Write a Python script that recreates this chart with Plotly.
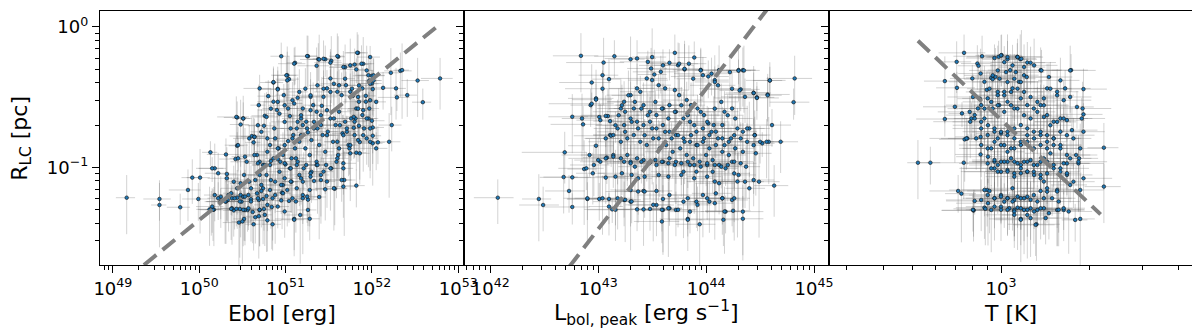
import numpy as np
import plotly.graph_objects as go

# ---------------- data (log10 values) ----------------
# Panel 1: Ebol [erg] vs R_LC [pc]  (outer / scattered objects)
E_LOG = [
49.16,49.54,49.54,49.78,49.87,49.92,50.01,49.99,50.13,50.12,
50.18,50.18,50.31,50.32,50.44,50.42,50.44,50.51,50.61,50.64,
50.69,50.75,50.86,50.91,50.95,51.04,51.02,51.11,51.26,51.36,
51.38,51.46,51.53,51.61,51.69,51.80,51.84,51.90,51.82,51.96,
52.00,52.02,52.00,52.13,52.22,52.28,52.29,52.33,52.35,52.41,
52.53,52.59,52.79,52.23,52.20,52.07,52.01,52.01,52.01,52.00,
51.97,51.93,51.85,51.82,51.81,51.80,51.80,51.86,51.82,51.73,
51.68,51.67,51.82,51.57,51.46,51.33,51.39,51.26,51.26,51.17,
51.10,51.04,50.96,50.95,50.85,50.84,50.79,50.75,50.78,50.74,
50.69,50.70,50.65,50.60,50.56,50.53,50.49,50.47,50.40,50.38,
50.33,50.31,50.25,50.25,50.17,50.14,50.46,50.52,50.62,50.69,
50.63,
50.70,50.76,50.80,50.86,50.90,50.93,50.98,51.03,51.05,51.10,
51.14,51.18,51.20,51.24,51.29,51.32,51.36,51.42,51.44,51.48,
51.52,51.56,51.60,51.65,51.70,51.75,51.78,51.85,51.89,51.93,
51.98,52.01,51.97,
50.63,50.67,50.70,50.74,50.79,50.82,50.86,50.88,50.92,50.94,
50.97,51.00,51.03,51.07,51.09,51.11,51.13,51.16,51.20,51.23,
51.26,51.28,51.30,51.33,51.36,51.39,51.41,51.43,51.46,51.49,
51.52,51.55,51.58,51.61,51.62,51.66,51.69,51.71,51.74,51.76,
51.79,51.85,51.89,51.91,51.94,51.96,
50.78,50.82,50.88,50.93,50.99,51.05,51.13,51.16,51.20,51.24,
51.30,51.36,51.41,51.47,51.53,51.59,51.62,51.12,
50.48,50.52,50.55,50.58,50.65,50.70,50.74,50.44,50.40,50.34,
50.38,50.44,50.48,50.51,50.57,50.67,50.72,50.82,50.88,50.97,
51.07,51.13,51.20,51.28,
]
E_RLOG = [
-1.216,-1.225,-1.268,-1.284,-1.161,-1.073,-1.073,-1.225,-0.893,-1.299,
-1.007,-1.197,-0.908,-1.047,-0.846,-0.941,-0.645,-0.652,-0.777,-0.782,
-0.557,-0.704,-0.396,-0.441,-0.209,-0.372,-0.344,-0.256,-0.209,-0.277,
-0.230,-0.230,-0.242,-0.213,-0.287,-0.268,-0.185,-0.263,-0.303,-0.344,
-0.348,-0.382,-0.403,-0.434,-0.327,-0.438,-0.502,-0.313,-0.308,-0.486,
-0.382,-0.536,-0.367,-0.699,-0.818,-0.822,-0.829,-0.775,-0.716,-0.668,
-0.581,-0.533,-0.533,-0.581,-0.652,-0.675,-0.770,-0.820,-0.896,-0.841,
-1.090,-1.007,-1.130,-1.152,-1.156,-1.097,-1.211,-1.230,-1.303,-1.339,
-1.367,-1.239,-1.180,-1.235,-1.405,-1.282,-1.377,-1.296,-1.204,-1.225,
-1.232,-1.303,-1.355,-1.227,-1.303,-1.303,-1.244,-1.296,-1.306,-1.291,
-1.232,-1.244,-1.209,-1.244,-1.301,-1.299,-1.393,-1.367,-1.318,-1.348,
-1.405,
-0.438,-0.633,-0.493,-0.533,-0.592,-0.618,-0.486,-0.581,-0.635,-0.545,
-0.505,-0.652,-0.581,-0.675,-0.498,-0.557,-0.604,-0.562,-0.498,-0.438,
-0.367,-0.405,-0.462,-0.486,-0.415,-0.462,-0.491,-0.417,-0.438,-0.491,
-0.405,-0.443,-0.382,
-0.822,-0.912,-0.960,-0.983,-0.889,-0.841,-0.936,-0.794,-0.865,-0.960,
-0.912,-0.979,-0.813,-0.936,-0.770,-0.865,-0.723,-0.818,-0.699,-0.865,
-0.751,-0.912,-0.806,-0.723,-0.960,-0.841,-0.699,-0.770,-0.889,-0.746,
-0.652,-0.818,-0.699,-0.912,-0.604,-0.758,-0.675,-0.746,-0.865,-0.652,
-0.718,-0.704,-0.628,-0.723,-0.794,-0.652,
-1.054,-0.983,-1.102,-1.031,-1.078,-1.007,-0.983,-1.054,-1.102,-0.983,
-1.031,-0.983,-1.054,-0.983,-1.007,-0.960,-0.865,-0.936,
-1.114,-1.054,-0.960,-1.102,-1.090,-1.054,-1.149,-1.149,-1.102,-1.197,
-1.220,-1.216,-1.197,-1.209,-1.197,-1.185,-1.168,-1.161,-1.197,-1.126,
-1.102,-1.149,-1.197,-1.161,
]
# Panel 1, dense core objects
E_CORE_LOG = [
50.86,50.91,51.01,51.02,51.10,51.25,51.39,51.44,51.52,51.60,
51.67,51.75,51.83,51.88,51.98,51.94,52.02,52.05,51.98,51.90,
51.84,51.94,51.98,51.90,51.84,51.75,51.67,51.63,51.56,51.48,
51.41,51.33,51.25,51.18,51.08,50.99,50.91,50.79,50.72,50.64,
50.68,50.78,50.83,50.91,50.99,51.08,51.16,51.23,51.29,51.37,
51.44,51.52,51.62,51.69,51.77,51.84,51.18,51.29,51.37,51.48,
51.60,51.71,51.79,50.99,51.06,51.14,50.87,50.51,50.43,50.48,
50.58,50.45,51.98,52.05,
50.45,50.53,50.64,50.68,50.76,50.83,50.91,50.99,51.06,51.14,
51.21,51.29,51.37,51.44,51.52,51.60,51.67,51.75,51.86,50.15,
50.22,50.32,50.37,50.41,50.47,50.53,50.60,50.68,50.70,50.76,
50.79,50.85,50.91,50.97,51.02,51.08,51.12,51.20,51.25,50.57,
50.51,50.43,50.37,50.30,50.22,50.16,50.15,50.60,50.72,50.83,
50.95,51.06,51.18,51.29,51.41,51.48,51.56,51.65,51.67,50.99,
51.10,51.28,50.50,
]
E_CORE_RLOG = [
-0.393,-0.445,-0.345,-0.381,-0.262,-0.208,-0.232,-0.227,-0.255,-0.208,
-0.286,-0.274,-0.184,-0.262,-0.215,-0.310,-0.345,-0.534,-0.522,-0.593,
-0.582,-0.652,-0.723,-0.771,-0.806,-0.842,-0.771,-0.700,-0.652,-0.593,
-0.629,-0.676,-0.723,-0.771,-0.794,-0.842,-0.865,-0.794,-0.747,-0.783,
-0.700,-0.641,-0.582,-0.534,-0.558,-0.522,-0.463,-0.440,-0.487,-0.416,
-0.440,-0.463,-0.416,-0.369,-0.440,-0.499,-0.629,-0.593,-0.723,-0.771,
-0.818,-0.723,-0.641,-0.676,-0.723,-0.676,-0.723,-0.652,-0.641,-0.695,
-0.794,-0.842,-0.818,-0.865,
-0.936,-0.924,-0.912,-0.971,-0.983,-0.955,-0.941,-0.971,-1.007,-0.960,
-1.007,-1.042,-0.983,-1.030,-1.007,-0.936,-0.971,-0.900,-0.900,-1.007,
-1.042,-1.078,-1.184,-1.220,-1.243,-1.208,-1.243,-1.220,-1.302,-1.338,
-1.267,-1.220,-1.279,-1.184,-1.161,-1.220,-1.243,-1.220,-1.208,-1.291,
-1.302,-1.295,-1.295,-1.243,-1.220,-1.302,-1.279,-1.149,-1.125,-1.090,
-1.125,-1.101,-1.078,-1.066,-1.090,-1.101,-1.149,-1.090,-1.137,-1.314,
-1.373,-1.366,-1.385,
]
# relative x errors for Ebol
E_XERR = [
.25,.35,.20,.30,.40,.25,.30,.35,.20,.30, .35,.25,.40,.30,.20,.35,.30,.25,.45,.30,
.20,.35,.30,.40,.25,.30,.35,.20,.30,.40, .25,.35,.30,.20,.35,.45,.30,.25,.35,.30,
.40,.20,.30,.35,.25,.30,.40,.35,.20,.30, .35,.25,.40,.30,.35,.20,.30,.25,.35,.40,
.30,.25,.35,.20,.30,.40,.25,.35,.30,.20, .35,.30,.25,.40,.30,.35,.20,.30,.25,.35,
.40,.30,.20,.35,.25,.30,.45,.30,.35,.20, .30,.35,.25,.30,.40,.20,.35,.30,.25,.35,
.30,.40,.25,.35,.20,.30,.35,.25,.40,.30, .20,.35,.30,.25,.35,.40,.30,.20,.35,.30,
.25,.30,.40,.35,.20,.30,.25,.35,.30,.45, .35,.20,.30,.25,.40,.30,.35,.20,.30,.35,
.30,.25,.35,.40,.20,.30,.35,.25,.30,.40, .20,.35,.30,.25,.35,.30,.40,.20,.30,.35,
.35,.30,.20,.40,.25,.35,.30,.25,.35,.20, .30,.40,.25,.30,.35,.20,.30,.35,.40,.25,
.25,.35,.30,.20,.35,.40,.25,.30,.35,.30, .40,.20,.35,.30,.25,.30,.35,.40,.20,.30,
.30,.35,.25,.40,.30,.20,.35,.30,.25,.35, .35,.30,.40,.25,.30,.35,.20,.30,.35,.25,
.20,.30,.35,.30,.25,.40,.30,.35,.20,.30, .30,.25,
]

# Panel 2: L_bol,peak [erg s^-1] vs R_LC [pc]
L_LOG = [
42.84,43.15,43.05,43.04,43.10,42.94,42.98,42.93,42.94,42.76,
42.85,42.86,43.01,43.09,43.11,43.12,43.02,43.30,43.36,43.46,
43.49,43.52,43.58,43.71,43.66,43.74,43.80,43.89,43.95,43.97,
44.02,44.08,44.12,44.30,44.34,44.32,44.36,44.44,44.47,44.57,
44.59,44.82,44.81,44.61,44.58,44.69,44.52,44.45,44.40,44.34,
44.27,44.24,44.17,44.15,44.07,44.02,43.98,43.92,43.86,43.82,
43.75,43.71,43.62,43.56,43.50,43.45,43.39,43.36,43.30,43.24,
43.21,43.25,43.33,43.42,43.48,43.54,43.60,43.66,43.72,43.79,
43.85,43.91,43.97,44.03,44.09,44.15,44.21,44.27,44.34,44.21,
44.15,44.09,44.03,43.97,43.91,43.85,43.79,43.72,43.66,43.60,
43.54,43.48,43.42,43.36,43.30,43.24,43.18,43.14,43.21,43.27,
43.33,43.39,43.45,43.51,43.57,43.63,43.69,43.76,43.82,43.88,
43.94,44.00,44.06,44.12,44.18,44.24,44.30,44.40,44.49,44.63,
44.36,44.26,44.06,44.01,43.91,43.85,43.79,43.72,43.66,43.60,
43.54,43.48,43.42,43.36,43.30,43.27,43.21,43.14,43.08,43.02,
42.96,42.92,42.87,42.76,42.68,42.73,42.76,42.90,42.69,42.07,
42.45,42.49,43.01,43.10,43.13,43.18,43.24,43.30,43.36,43.42,
43.48,43.54,43.60,43.66,43.72,43.30,43.42,43.54,43.60,43.66,
43.79,43.85,43.91,43.97,44.03,44.09,44.15,44.18,44.24,44.34,
43.83,43.94,43.58,44.17,43.82,43.54,43.42,43.33,43.28,43.85,
43.97,44.09,
]
L_RLOG = [
-0.206,-0.209,-0.254,-0.344,-0.372,-0.396,-0.509,-0.557,-0.547,-0.640,
-0.652,-0.694,-0.642,-0.635,-0.770,-0.775,-0.664,-0.230,-0.225,-0.249,
-0.296,-0.339,-0.320,-0.185,-0.256,-0.273,-0.303,-0.218,-0.306,-0.344,
-0.353,-0.379,-0.308,-0.308,-0.308,-0.445,-0.498,-0.469,-0.502,-0.481,
-0.382,-0.367,-0.536,-0.699,-0.818,-0.818,-0.829,-0.770,-0.723,-0.746,
-0.652,-0.581,-0.604,-0.699,-0.699,-0.687,-0.628,-0.581,-0.557,-0.521,
-0.486,-0.450,-0.438,-0.415,-0.379,-0.367,-0.462,-0.438,-0.486,-0.533,
-0.581,-0.604,-0.581,-0.557,-0.604,-0.628,-0.581,-0.557,-0.604,-0.652,
-0.675,-0.746,-0.723,-0.770,-0.746,-0.794,-0.818,-0.865,-0.889,-0.912,
-0.889,-0.841,-0.865,-0.818,-0.841,-0.818,-0.794,-0.770,-0.746,-0.699,
-0.723,-0.675,-0.699,-0.675,-0.652,-0.699,-0.723,-0.770,-0.818,-0.794,
-0.770,-0.818,-0.841,-0.794,-0.865,-0.841,-0.889,-0.865,-0.912,-0.936,
-0.960,-0.912,-0.948,-0.983,-1.007,-0.960,-1.054,-1.149,-1.102,-1.130,
-1.102,-1.043,-1.031,-0.983,-1.031,-0.983,-1.031,-0.960,-0.936,-0.960,
-0.983,-0.964,-0.948,-0.936,-0.960,-0.912,-0.936,-0.912,-0.931,-0.960,
-0.983,-0.912,-1.012,-1.071,-1.069,-1.168,-1.282,-1.225,-0.893,-1.216,
-1.225,-1.268,-1.225,-1.225,-1.299,-1.220,-1.232,-1.244,-1.299,-1.299,
-1.296,-1.268,-1.303,-1.291,-1.303,-1.161,-1.168,-1.168,-1.225,-1.197,
-1.244,-1.315,-1.244,-1.197,-1.244,-1.185,-1.220,-1.315,-1.232,-1.315,
-1.367,-1.405,-1.386,-1.344,-1.161,-1.126,-1.102,-1.078,-1.031,-1.102,
-1.102,-1.102,
]
L_CORE_LOG = [
43.04,43.50,43.60,43.75,43.80,43.84,43.88,43.95,44.05,44.08,
44.11,44.22,44.30,44.35,44.24,44.31,44.44,44.47,44.57,44.59,
44.45,44.38,44.32,44.26,44.20,44.14,44.08,44.01,43.95,43.89,
43.83,43.77,43.71,43.65,43.59,43.53,43.46,43.40,43.34,43.28,
43.22,43.19,43.16,43.25,43.31,43.37,43.43,43.50,43.56,43.62,
43.68,43.74,43.80,43.86,43.92,43.98,44.05,44.11,44.17,44.23,
44.29,44.38,44.44,44.50,44.56,42.98,43.07,43.11,43.07,42.98,
43.00,43.07,43.14,43.24,43.30,43.34,43.40,43.47,43.53,43.59,
43.65,43.71,43.77,43.83,43.89,43.95,44.01,44.08,44.14,44.20,
44.26,44.32,44.37,44.46,42.89,42.95,43.07,43.16,43.22,43.31,
43.37,43.43,43.56,43.65,43.77,43.89,44.01,44.08,44.12,44.29,
44.44,42.90,43.04,43.10,43.16,43.25,43.31,43.37,43.43,43.51,
43.59,43.65,43.74,43.83,43.92,44.01,44.08,44.15,44.26,43.59,
43.83,44.16,44.34,44.25,44.17,
]
L_CORE_RLOG = [
-0.440,-0.215,-0.274,-0.262,-0.298,-0.262,-0.369,-0.310,-0.333,-0.392,
-0.416,-0.322,-0.312,-0.310,-0.440,-0.452,-0.471,-0.506,-0.487,-0.381,
-0.771,-0.723,-0.794,-0.771,-0.629,-0.534,-0.582,-0.676,-0.605,-0.700,
-0.629,-0.558,-0.605,-0.652,-0.582,-0.534,-0.629,-0.582,-0.534,-0.487,
-0.558,-0.629,-0.700,-0.747,-0.676,-0.723,-0.771,-0.723,-0.794,-0.747,
-0.794,-0.771,-0.818,-0.771,-0.842,-0.794,-0.747,-0.794,-0.842,-0.794,
-0.723,-0.818,-0.842,-0.818,-0.818,-0.518,-0.634,-0.671,-0.794,-0.846,
-0.948,-0.936,-0.924,-0.960,-0.971,-0.995,-0.960,-0.971,-0.948,-0.960,
-0.971,-0.983,-0.971,-0.960,-0.983,-0.995,-0.971,-0.983,-0.995,-0.983,
-0.960,-0.971,-0.995,-0.900,-1.007,-1.042,-1.073,-1.066,-1.042,-1.054,
-1.078,-1.066,-1.054,-1.066,-1.054,-1.078,-1.066,-1.101,-1.113,-1.101,
-1.090,-1.220,-1.220,-1.279,-1.302,-1.231,-1.243,-1.172,-1.172,-1.267,
-1.302,-1.291,-1.302,-1.220,-1.267,-1.220,-1.255,-1.220,-1.220,-1.385,
-1.373,-1.373,-1.366,-1.309,-1.314,
]
L_XERR = [
.45,.35,.55,.40,.30,.50,.45,.35,.60,.40, .35,.50,.40,.45,.30,.55,.40,.35,.50,.45,
.40,.30,.45,.55,.35,.40,.50,.30,.45,.40, .55,.35,.40,.45,.30,.50,.40,.35,.45,.60,
.30,.45,.40,.50,.35,.45,.30,.40,.55,.35, .45,.40,.35,.50,.30,.45,.40,.55,.35,.40,
.50,.35,.45,.30,.40,.55,.35,.45,.40,.30, .40,.50,.35,.45,.60,.35,.40,.30,.45,.50,
.35,.40,.45,.30,.55,.40,.35,.50,.40,.45, .30,.45,.40,.35,.50,.45,.30,.40,.55,.35,
.45,.35,.50,.40,.30,.45,.40,.35,.50,.60, .40,.30,.45,.35,.55,.40,.45,.30,.40,.50,
.35,.45,.40,.50,.30,.35,.45,.40,.55,.35, .50,.40,.30,.45,.35,.40,.50,.45,.30,.40,
.45,.35,.40,.55,.30,.45,.35,.50,.40,.35, .40,.45,.30,.50,.35,.40,.45,.35,.60,.40,
.30,.40,.50,.35,.45,.40,.30,.55,.40,.45, .35,.45,.40,.30,.50,.35,.45,.40,.35,.50,
.40,.35,.45,.50,.30,.40,.45,.35,.40,.55, .45,.40,
]

# Panel 3: T [K] vs R_LC [pc]
T_LOG = [
2.719,2.761,2.810,2.810,2.850,2.875,2.844,2.851,2.868,2.874,
2.877,2.886,2.855,2.866,2.903,2.907,2.900,2.896,2.920,2.924,
2.936,2.931,2.944,2.952,2.967,2.972,2.981,2.992,3.002,3.022,
3.031,3.055,3.065,3.089,3.134,3.078,3.061,3.039,3.011,2.989,
2.955,2.933,2.922,2.911,2.944,2.972,2.994,3.022,3.045,3.067,
3.089,3.111,3.134,3.156,3.178,3.201,3.156,3.145,3.190,3.217,
3.237,3.279,3.276,3.279,3.279,3.240,3.223,3.201,3.178,3.156,
3.134,3.111,3.089,3.067,3.045,3.022,3.000,2.978,2.955,2.933,
2.916,2.933,2.955,2.978,3.000,3.022,3.045,3.067,3.089,3.111,
3.134,3.156,3.178,3.201,3.223,3.254,3.264,3.262,3.223,3.201,
3.178,3.156,3.134,3.111,3.089,3.067,3.045,3.022,3.000,2.978,
2.955,2.931,2.978,3.000,3.022,3.045,3.067,3.089,3.111,3.134,
3.156,3.201,3.223,3.245,3.279,3.348,3.348,3.268,3.190,3.156,
3.134,3.111,3.089,3.067,3.045,3.022,3.000,2.978,2.955,2.933,
2.911,2.953,3.011,3.028,3.056,3.078,3.100,3.123,3.145,3.190,
3.212,3.251,3.268,3.067,3.120,3.089,3.000,2.967,2.944,2.907,
3.039,3.045,
]
T_RLOG = [
-0.967,-0.967,-0.386,-0.656,-0.249,-0.185,-0.569,-0.434,-0.616,-0.967,
-0.801,-0.794,-1.168,-1.187,-0.367,-1.306,-0.652,-0.675,-0.261,-0.277,
-0.209,-0.332,-0.391,-0.448,-0.363,-0.372,-0.355,-0.213,-0.201,-0.230,
-0.308,-0.213,-0.230,-0.254,-0.308,-0.344,-0.391,-0.438,-0.462,-0.486,
-0.509,-0.557,-0.581,-0.628,-0.652,-0.581,-0.557,-0.533,-0.581,-0.509,
-0.557,-0.581,-0.557,-0.628,-0.675,-0.652,-0.438,-0.509,-0.462,-0.438,
-0.308,-0.443,-0.581,-0.623,-0.746,-0.735,-0.664,-0.746,-0.794,-0.818,
-0.770,-0.746,-0.723,-0.699,-0.723,-0.746,-0.758,-0.746,-0.770,-0.723,
-0.794,-0.841,-0.865,-0.818,-0.841,-0.889,-0.865,-0.841,-0.818,-0.865,
-0.841,-0.865,-0.841,-0.865,-0.912,-0.912,-0.936,-0.972,-0.972,-1.007,
-0.983,-0.960,-0.960,-0.983,-0.960,-0.983,-0.960,-0.960,-0.960,-0.960,
-0.972,-0.908,-1.007,-1.031,-1.019,-1.043,-1.007,-1.031,-1.031,-1.054,
-1.043,-1.031,-1.054,-1.102,-1.078,-0.860,-1.137,-1.161,-1.161,-1.173,
-1.168,-1.197,-1.209,-1.220,-1.232,-1.220,-1.197,-1.220,-1.197,-1.232,
-1.239,-1.161,-1.244,-1.291,-1.287,-1.303,-1.291,-1.303,-1.291,-1.303,
-1.303,-1.374,-1.367,-1.367,-1.405,-1.339,-1.280,-1.303,-1.287,-1.306,
-1.149,-1.303,
]
T_CORE_LOG = [
3.000,2.978,3.022,3.056,3.069,3.011,3.039,2.989,3.017,3.050,
3.078,3.100,3.112,3.137,3.087,3.067,3.045,3.022,2.995,2.972,
2.961,2.989,3.011,3.034,3.056,3.078,3.100,3.123,3.145,3.167,
3.190,3.212,3.201,3.162,3.234,3.234,3.257,3.273,3.212,3.190,
3.167,3.145,3.123,3.100,3.078,3.056,3.034,3.011,2.989,2.967,
2.944,2.928,2.905,2.894,2.911,2.933,2.956,2.978,3.000,3.022,
3.045,3.067,3.089,3.112,3.134,3.156,3.178,3.201,3.223,3.245,
3.268,2.989,3.011,3.034,2.967,2.883,2.931,
2.956,2.978,2.989,3.011,3.034,3.056,3.078,3.100,3.123,3.145,
3.167,2.967,2.989,3.022,3.045,3.067,3.089,3.112,3.134,3.145,
3.178,3.212,3.234,3.262,3.223,3.234,3.190,3.156,2.944,2.961,
2.978,3.000,3.022,3.039,3.056,3.078,3.100,3.123,3.145,3.173,
3.195,2.956,2.978,3.000,3.022,3.045,3.067,3.089,3.112,3.134,
3.162,2.905,2.947,3.045,3.067,3.100,3.117,3.151,3.195,3.212,
3.229,
]
T_CORE_RLOG = [
-0.203,-0.222,-0.215,-0.215,-0.227,-0.251,-0.274,-0.310,-0.322,-0.322,
-0.286,-0.255,-0.274,-0.310,-0.357,-0.392,-0.369,-0.392,-0.369,-0.345,
-0.440,-0.463,-0.487,-0.463,-0.440,-0.463,-0.499,-0.534,-0.558,-0.440,
-0.487,-0.522,-0.381,-0.357,-0.499,-0.310,-0.570,-0.652,-0.652,-0.676,
-0.700,-0.641,-0.605,-0.652,-0.629,-0.582,-0.558,-0.605,-0.558,-0.534,
-0.582,-0.511,-0.499,-0.605,-0.652,-0.676,-0.700,-0.723,-0.747,-0.771,
-0.794,-0.818,-0.771,-0.794,-0.747,-0.771,-0.794,-0.842,-0.771,-0.794,
-0.865,-0.794,-0.842,-0.865,-0.865,-0.794,-0.783,
-0.924,-0.948,-0.983,-0.960,-0.936,-0.971,-0.960,-0.948,-0.983,-0.936,
-0.900,-1.007,-1.030,-1.030,-1.066,-1.042,-1.030,-1.054,-1.078,-1.101,
-1.007,-0.971,-0.936,-0.960,-1.042,-1.125,-1.172,-1.149,-1.161,-1.168,
-1.220,-1.208,-1.220,-1.243,-1.208,-1.220,-1.231,-1.243,-1.220,-1.220,
-1.243,-1.255,-1.279,-1.302,-1.302,-1.314,-1.291,-1.302,-1.314,-1.291,
-1.326,-1.302,-1.295,-1.338,-1.373,-1.361,-1.409,-1.361,-1.302,-1.291,
-1.314,
]
T_XERR = [
.08,.08,.15,.20,.12,.18,.22,.15,.10,.25, .18,.14,.20,.12,.16,.22,.18,.25,.12,.15,
.20,.16,.24,.12,.18,.20,.15,.22,.12,.18, .16,.20,.14,.25,.18,.12,.20,.16,.22,.15,
.18,.24,.14,.20,.16,.22,.18,.12,.25,.16, .20,.15,.22,.18,.14,.24,.16,.20,.18,.22,
.14,.20,.25,.16,.18,.22,.15,.20,.24,.16, .18,.22,.14,.20,.25,.16,.18,.22,.15,.20,
.24,.16,.20,.18,.22,.14,.25,.18,.20,.16, .22,.18,.24,.15,.20,.18,.16,.22,.20,.25,
.18,.22,.16,.20,.24,.18,.15,.22,.20,.16, .20,.18,.22,.25,.16,.20,.18,.24,.15,.22,
.20,.16,.22,.18,.25,.12,.14,.20,.18,.24, .16,.22,.20,.18,.25,.16,.22,.20,.18,.24,
.20,.18,.22,.16,.24,.20,.18,.22,.25,.20, .18,.10,.12,.22,.20,.18,.24,.16,.20,.22,
.18,.20,
]

# relative R_LC errors (estimated)
R_ERR = [
.45,.30,.50,.25,.40,.35,.60,.30,.20,.45, .50,.35,.30,.55,.25,.40,.30,.45,.35,.20,
.40,.50,.30,.35,.25,.45,.60,.30,.40,.35, .30,.25,.50,.40,.45,.30,.35,.55,.20,.40,
.35,.45,.25,.30,.50,.40,.20,.35,.55,.30, .45,.25,.40,.35,.60,.30,.50,.25,.45,.35,
.30,.40,.55,.20,.35,.45,.30,.50,.25,.40, .60,.35,.30,.45,.40,.25,.50,.35,.30,.55,
.40,.30,.45,.20,.35,.50,.40,.30,.60,.35, .25,.45,.35,.50,.30,.40,.20,.55,.35,.45,
.30,.50,.40,.25,.45,.35,.60,.30,.40,.50, .35,.25,.45,.30,.55,.40,.35,.20,.50,.30,
.45,.40,.30,.35,.25,.50,.45,.30,.60,.40, .35,.55,.30,.40,.45,.25,.35,.50,.30,.40,
.20,.45,.35,.30,.50,.40,.55,.25,.35,.45, .40,.30,.60,.35,.45,.30,.25,.50,.40,.35,
.50,.35,.30,.45,.20,.40,.35,.55,.30,.45, .30,.40,.50,.25,.35,.45,.30,.40,.60,.35,
.45,.30,.35,.50,.40,.25,.45,.30,.35,.55, .25,.50,.40,.30,.45,.35,.20,.40,.50,.30,
.40,.35,.55,.30,.25,.45,.40,.35,.50,.30, .35,.45,.30,.40,.60,.35,.30,.45,.25,.40,
.50,.30,.40,.35,.45,.30,.55,.25,.40,.35, .30,.45,.35,.50,.30,.40,.35,.45,.30,.50,
]

# dashed power-law relations: log R = slope * log X + intercept, drawn over [lo, hi]
FIT_E = dict(slope=0.5, intercept=-26.375, lo=49.36, hi=52.79)
FIT_L = dict(slope=1.0, intercept=-44.44, lo=42.73, hi=44.70)
FIT_T = dict(slope=-2.0, intercept=5.339, lo=2.719, hi=3.337)

# axis tick labels (exponents of 10)
E_TICK_EXP = [49, 50, 51, 52, 53]
L_TICK_EXP = [42, 43, 44, 45]
T_TICK_EXP = [3]
R_TICK_EXP = [0, -1]

# ---------------- figure ----------------
FONT = "DejaVu Sans"
ECOL = "rgba(105,105,105,0.30)"


def sup_label(e):
    s = str(e).replace("-", "\u2212")
    return f"10<sup>{s}</sup>"


def minor_vals(lo, hi):
    return [m * 10.0 ** k for k in range(lo, hi + 1) for m in range(2, 10)]


def build(xl, yl, xc, yc, xe):
    x1, y1 = np.array(xl), np.array(yl)
    n1 = min(len(x1), len(y1), len(xe), len(R_ERR))
    x2, y2 = np.array(xc), np.array(yc)
    n2 = min(len(x2), len(y2), len(xe), len(R_ERR))
    lx = np.concatenate([x1[:n1], x2[:n2]])
    ly = np.concatenate([y1[:n1], y2[:n2]])
    ex = np.concatenate([np.array(xe[:n1]), np.array(xe[len(xe) - n2:])])
    ey = np.concatenate([np.array(R_ERR[:n1]), np.array(R_ERR[len(R_ERR) - n2:])])
    return 10 ** lx, 10 ** ly, ex, ey


fig = go.Figure()
panels = [
    ("x", "y", E_LOG, E_RLOG, E_CORE_LOG, E_CORE_RLOG, E_XERR, FIT_E),
    ("x2", "y2", L_LOG, L_RLOG, L_CORE_LOG, L_CORE_RLOG, L_XERR, FIT_L),
    ("x3", "y3", T_LOG, T_RLOG, T_CORE_LOG, T_CORE_RLOG, T_XERR, FIT_T),
]
for xa, ya, xl, yl, xc, yc, xe, fit in panels:
    x, y, ex, ey = build(xl, yl, xc, yc, xe)
    fig.add_trace(go.Scatter(
        x=x, y=y, mode="markers", xaxis=xa, yaxis=ya, showlegend=False,
        marker=dict(size=3.6, color="#1f77b4", line=dict(color="#0b0b0b", width=0.6)),
        error_x=dict(type="data", array=x * ex, color=ECOL, thickness=1, width=0),
        error_y=dict(type="data", array=y * ey, color=ECOL, thickness=1, width=0),
    ))
for xa, ya, xl, yl, xc, yc, xe, fit in panels:
    lx = np.array([fit["lo"], fit["hi"]])
    ly = fit["slope"] * lx + fit["intercept"]
    fig.add_trace(go.Scatter(
        x=10 ** lx, y=10 ** ly, mode="lines", xaxis=xa, yaxis=ya, showlegend=False,
        line=dict(color="#808080", width=4, dash="16px,8px"),
    ))

common = dict(
    type="log", showline=True, linecolor="black", linewidth=1.3, mirror=True,
    ticks="outside", ticklen=7, tickwidth=1, tickcolor="black",
    showgrid=False, zeroline=False,
    tickfont=dict(family=FONT, size=18, color="black"),
    tickmode="array",
)
minor_common = dict(ticks="outside", ticklen=4, tickwidth=1, tickcolor="black", showgrid=False)

fig.update_layout(
    width=1200, height=332,
    margin=dict(l=92, r=3, t=2, b=75),
    paper_bgcolor="white", plot_bgcolor="white",
    xaxis=dict(domain=[0, 1 / 3], range=[48.851, 53.071], anchor="y",
               tickvals=[10.0 ** e for e in E_TICK_EXP], ticktext=[sup_label(e) for e in E_TICK_EXP],
               minor=dict(tickvals=minor_vals(48, 53), **minor_common), **common),
    xaxis2=dict(domain=[1 / 3, 2 / 3], range=[41.76, 45.135], anchor="y2",
                tickvals=[10.0 ** e for e in L_TICK_EXP], ticktext=[sup_label(e) for e in L_TICK_EXP],
                minor=dict(tickvals=minor_vals(41, 45), **minor_common), **common),
    xaxis3=dict(domain=[2 / 3, 1], range=[2.417, 3.6495], anchor="y3",
                tickvals=[10.0 ** e for e in T_TICK_EXP], ticktext=[sup_label(e) for e in T_TICK_EXP],
                minor=dict(tickvals=minor_vals(2, 3), **minor_common), **common),
    yaxis=dict(range=[-1.695, 0.113], anchor="x",
               tickvals=[10.0 ** e for e in R_TICK_EXP], ticktext=[sup_label(e) for e in R_TICK_EXP],
               minor=dict(tickvals=minor_vals(-2, -1), **minor_common), **common),
    yaxis2=dict(range=[-1.695, 0.113], anchor="x2", matches="y", showticklabels=False,
                tickvals=[10.0 ** e for e in R_TICK_EXP],
                minor=dict(tickvals=minor_vals(-2, -1), **minor_common), **common),
    yaxis3=dict(range=[-1.695, 0.113], anchor="x3", matches="y", showticklabels=False,
                tickvals=[10.0 ** e for e in R_TICK_EXP],
                minor=dict(tickvals=minor_vals(-2, -1), **minor_common), **common),
)

TITLE_FONT = dict(family=FONT, size=22, color="black")
titles = [
    ("Ebol [erg]", 1 / 6),
    ("L<sub>bol, peak</sub> [erg s<sup>\u22121</sup>]", 0.5),
    ("T [K]", 5 / 6),
]
for text, xc in titles:
    fig.add_annotation(text=text, x=xc, y=-0.19, xref="paper", yref="paper",
                       xanchor="center", yanchor="middle", showarrow=False, font=TITLE_FONT)
fig.add_annotation(text="R<sub>LC</sub> [pc]", x=-0.0724, y=0.5, xref="paper", yref="paper",
                   xanchor="center", yanchor="middle", textangle=-90, showarrow=False, font=TITLE_FONT)

fig.write_html("out.html")
